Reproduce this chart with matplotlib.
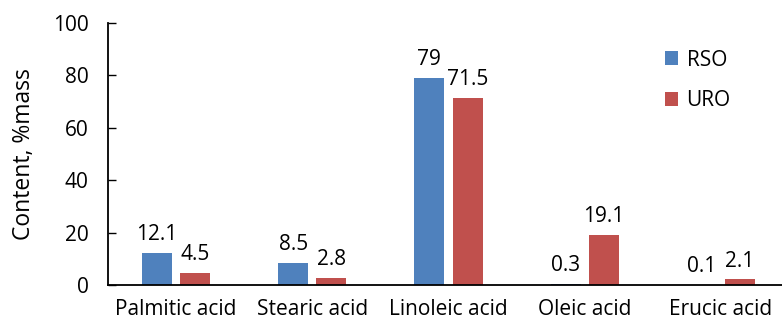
import matplotlib
matplotlib.use("Agg")
import matplotlib.pyplot as plt
import numpy as np

categories = ["Palmitic acid", "Stearic acid", "Linoleic acid", "Oleic acid", "Erucic acid"]
rso = [12.1, 8.5, 79, 0.3, 0.1]
uro = [4.5, 2.8, 71.5, 19.1, 2.1]
rso_labels = ["12.1", "8.5", "79", "0.3", "0.1"]
uro_labels = ["4.5", "2.8", "71.5", "19.1", "2.1"]
yticks = [0, 20, 40, 60, 80, 100]

plt.rcParams['font.family'] = ['Open Sans', 'DejaVu Sans']

fig = plt.figure(figsize=(7.82, 3.24), dpi=100)
ax = fig.add_axes([108/782, 39/324, (789-108)/782, (285-23)/324])

x = np.arange(len(categories))
w = 0.22
off = 0.14
blue = "#4F81BD"
red = "#C0504D"
b1 = ax.bar(x - off, rso, w, color=blue, label="RSO")
b2 = ax.bar(x + off, uro, w, color=red, label="URO")

for xi, v, t in zip(x, rso, rso_labels):
    ax.text(xi - off, v + 3, t, ha='center', va='bottom', fontsize=15)
for xi, v, t in zip(x, uro, uro_labels):
    ax.text(xi + off, v + 3, t, ha='center', va='bottom', fontsize=15)

ax.set_xlim(-0.5, 4.5)
ax.set_ylim(0, 100)
ax.set_yticks(yticks)
ax.set_xticks(x)
ax.set_xticklabels(categories, fontsize=15)
ax.tick_params(axis='x', length=0, pad=10)
ax.tick_params(axis='y', direction='in', length=6, width=1, labelsize=15, pad=14)
for s in ['top', 'right']:
    ax.spines[s].set_visible(False)
for s in ['left', 'bottom']:
    ax.spines[s].set_linewidth(1.3)
ax.set_ylabel("Content, %mass", fontsize=16.5, labelpad=12)

leg = ax.legend(loc='upper left', bbox_to_anchor=(0.79, 0.97), frameon=False,
                fontsize=15, handlelength=0.65, handleheight=0.65, labelspacing=0.93,
                handletextpad=0.4)

fig.savefig("out.png", dpi=100)
